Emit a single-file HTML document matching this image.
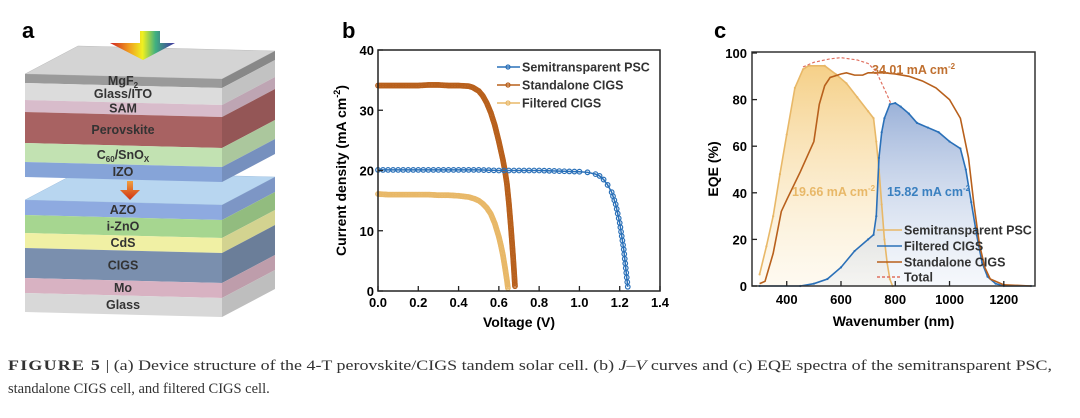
<!DOCTYPE html>
<html><head><meta charset="utf-8"><style>
html,body{margin:0;padding:0;background:#fff;}
svg{display:block;font-family:"Liberation Sans",Arial,sans-serif;}
</style></head><body>
<svg id="fig" width="1080" height="418" viewBox="0 0 1080 418">
<defs>
<linearGradient id="rainbow" x1="0" x2="1" y1="0" y2="0">
<stop offset="0" stop-color="#d02020"/><stop offset="0.3" stop-color="#f0a020"/><stop offset="0.5" stop-color="#f0f020"/><stop offset="0.7" stop-color="#40b080"/><stop offset="1" stop-color="#4030a0"/></linearGradient>
<linearGradient id="orarrow" x1="0" x2="0" y1="0" y2="1"><stop offset="0" stop-color="#f0a040"/><stop offset="1" stop-color="#d03010"/></linearGradient>
<linearGradient id="yfill" x1="0" x2="0" y1="0" y2="1"><stop offset="0" stop-color="#f2c060" stop-opacity="0.75"/><stop offset="1" stop-color="#fbeed0" stop-opacity="0.3"/></linearGradient>
<linearGradient id="bfill" x1="0" x2="0" y1="0" y2="1"><stop offset="0" stop-color="#7090c8" stop-opacity="0.7"/><stop offset="1" stop-color="#e0e8f4" stop-opacity="0.3"/></linearGradient>
</defs>
<rect width="1080" height="418" fill="#fff"/>
<text x="22" y="38" font-size="22" font-weight="bold">a</text>
<text x="342" y="38" font-size="22" font-weight="bold">b</text>
<text x="714" y="38" font-size="22" font-weight="bold">c</text>
<g id="pa"></g>
<g id="pb"></g>
<g id="pc"></g>
<g font-family="Liberation Serif, serif" font-size="14.5" fill="#333">
<text x="8" y="370" textLength="1044" lengthAdjust="spacingAndGlyphs"><tspan font-weight="bold" letter-spacing="1">FIGURE 5</tspan>  |  (a) Device structure of the 4-T perovskite/CIGS tandem solar cell. (b) <tspan font-style="italic">J–V</tspan> curves and (c) EQE spectra of the semitransparent PSC,</text>
<text x="8" y="393">standalone CIGS cell, and filtered CIGS cell.</text>
</g>
</svg>
<script>
const NS="http://www.w3.org/2000/svg";
function mk(p,t,a,txt){const e=document.createElementNS(NS,t);for(const k in a)e.setAttribute(k,a[k]);if(txt!==undefined)e.textContent=txt;p.appendChild(e);return e;}

/* ---------- Panel a ---------- */
const pa=document.getElementById('pa');
const layerNames=["MgF2","Glass/ITO","SAM","Perovskite","C60/SnOx","IZO","AZO","i-ZnO","CdS","CIGS","Mo","Glass"];
const layerTops=[74,83,100,112,143,162,200,215,233,248,278,293];
const layerBots=[83,100,112,143,162,177,215,233,248,278,293,312];
const layerCols=["#9a9a9a","#dcdcdc","#d8bccb","#a86262","#c2e2b2","#86a4d8","#8eaae0","#a6d690","#f0f0a4","#7a8fae","#d8b2c2","#d8d8d8"];
function shade(c,f){const n=parseInt(c.slice(1),16);const r=Math.round(((n>>16)&255)*f),g=Math.round(((n>>8)&255)*f),b=Math.round((n&255)*f);return `rgb(${r},${g},${b})`;}
let e=mk(pa,'polygon',{points:"25,74 222,79 275,51 78,46",fill:"#d4d4d4",stroke:"#bbb","stroke-width":0.5});

e=mk(pa,'polygon',{points:"25,200 222,205 275,177 78,172",fill:"#b8d6f0",stroke:"#a0c0e0","stroke-width":0.5});

const layerGroups=[];
layerNames.forEach((n,i)=>{
  const y0=layerTops[i],y1=layerBots[i];
  const g=mk(pa,'g',{});
  
  
  mk(g,'polygon',{points:`25,${y0} 222,${y0+5} 222,${y1+5} 25,${y1}`,fill:layerCols[i]});
  mk(g,'polygon',{points:`222,${y0+5} 275,${y0-23} 275,${y1-23} 222,${y1+5}`,fill:shade(layerCols[i],0.88)});
  layerGroups.push(g);
});
layerNames.forEach((n,i)=>{
  const y0=layerTops[i],y1=layerBots[i];
  const t=mk(pa,'text',{x:123,y:(y0+y1)/2+6.5,"text-anchor":"middle","font-size":12.5,"font-weight":"bold",fill:"#333"});
  
  if(n==="MgF2"){t.textContent="MgF";mk(t,'tspan',{"font-size":8,dy:3},"2");}
  else if(n==="C60/SnOx"){t.textContent="C";mk(t,'tspan',{"font-size":8,dy:3},"60");mk(t,'tspan',{dy:-3},"/SnO");mk(t,'tspan',{"font-size":8,dy:3},"X");}
  else t.textContent=n;
});
e=mk(pa,'polygon',{points:"110,43 140,43 140,31 160,31 160,43 175,43 143,60",fill:"url(#rainbow)"});

e=mk(pa,'polygon',{points:"120,190 127,190 127,181 133,181 133,190 140,190 130,200",fill:"url(#orarrow)"});


/* ---------- Panel b ---------- */
const jvV_std=[0,0.05,0.1,0.15,0.2,0.25,0.3,0.35,0.4,0.45,0.47,0.5,0.52,0.54,0.56,0.58,0.6,0.61,0.62,0.63,0.64,0.65,0.66,0.67,0.675,0.68];
const jvJ_std=[34.1,34.1,34.1,34.1,34.1,34.2,34.2,34.1,34.1,34.0,33.8,33.2,32.4,31.2,29.6,27.5,24.8,23.3,21.8,20.0,17.8,14.5,10.5,6.0,3.5,0.8];
const jvV_fil=[0,0.05,0.1,0.15,0.2,0.25,0.3,0.35,0.4,0.45,0.48,0.5,0.52,0.54,0.56,0.58,0.6,0.61,0.62,0.63,0.64,0.645];
const jvJ_fil=[16.1,16.0,16.0,16.0,16.0,16.0,15.9,15.9,15.8,15.6,15.3,15.0,14.5,13.8,12.8,11.2,9.0,7.6,6.0,4.0,1.8,0.5];
const jvV_psc=[0,0.1,0.2,0.3,0.4,0.5,0.6,0.7,0.8,0.9,1.0,1.04,1.08,1.1,1.12,1.14,1.16,1.18,1.2,1.22,1.24];
const jvJ_psc=[20.1,20.1,20.1,20.1,20.1,20.1,20.0,20.0,20.0,19.9,19.8,19.7,19.4,19.1,18.5,17.6,16.4,14.4,11.3,6.9,0.7];
const bXTicks=[0,0.2,0.4,0.6,0.8,1.0,1.2,1.4];
const bYTicks=[0,10,20,30,40];
const bL=378,bR=660,bT=50,bB=291;
const bx=v=>bL+(v-0)/(1.4)*(bR-bL), by=j=>bB-j/40*(bB-bT);
const pb=document.getElementById('pb');
function series(p,V,J,col,name,step,fx,fy,r){
  const g=mk(p,'g',{});
  mk(g,'polyline',{points:V.map((v,i)=>fx(v)+","+fy(J[i])).join(" "),fill:"none",stroke:col,"stroke-width":1.5});
  for(let i=0;i<V.length;i++){
    mk(g,'circle',{cx:fx(V[i]),cy:fy(J[i]),r:r,fill:"none",stroke:col,"stroke-width":1.2});
    if(step&&i<V.length-1){const x0=fx(V[i]),x1=fx(V[i+1]),y0=fy(J[i]),y1=fy(J[i+1]);const d=Math.hypot(x1-x0,y1-y0);const n=Math.floor(d/step);
      for(let k=1;k<n;k++)mk(g,'circle',{cx:x0+(x1-x0)*k/n,cy:y0+(y1-y0)*k/n,r:r,fill:"none",stroke:col,"stroke-width":1.2});}
  }
}
series(pb,jvV_std,jvJ_std,"#b8601c","series-standalone-cigs",1.4,bx,by,2.3);
series(pb,jvV_fil,jvJ_fil,"#e8b868","series-filtered-cigs",1.4,bx,by,2.3);
series(pb,jvV_psc,jvJ_psc,"#2a70b8","series-semitransparent-psc",4.2,bx,by,2.3);
e=mk(pb,'rect',{x:bL,y:bT,width:bR-bL,height:bB-bT,fill:"none",stroke:"#222","stroke-width":1.5});

bXTicks.forEach(t=>{mk(pb,'line',{x1:bx(t),x2:bx(t),y1:bB,y2:bB-5,stroke:"#222","stroke-width":1.3});
  const tx=mk(pb,'text',{x:bx(t),y:bB+16,"text-anchor":"middle","font-size":13,"font-weight":"bold"},t.toFixed(1));
  });
bYTicks.forEach(t=>{mk(pb,'line',{x1:bL,x2:bL+5,y1:by(t),y2:by(t),stroke:"#222","stroke-width":1.3});
  const tx=mk(pb,'text',{x:bL-4,y:by(t)+5,"text-anchor":"end","font-size":13,"font-weight":"bold"},String(t));
  });
e=mk(pb,'text',{x:(bL+bR)/2,y:327,"text-anchor":"middle","font-size":14,"font-weight":"bold"},"Voltage (V)");

e=mk(pb,'text',{x:0,y:0,transform:`translate(346,${(bT+bB)/2}) rotate(-90)`,"text-anchor":"middle","font-size":14,"font-weight":"bold"});
e.textContent="Current density (mA cm";mk(e,'tspan',{"font-size":9,dy:-6},"-2");mk(e,'tspan',{dy:6},")");

const bLeg=[["Semitransparent PSC","#2a70b8",67],["Standalone CIGS","#b8601c",85],["Filtered CIGS","#e8b868",103]];
bLeg.forEach(l=>{const g=mk(pb,'g',{});
  mk(g,'line',{x1:497,x2:520,y1:l[2],y2:l[2],stroke:l[1],"stroke-width":1.5});
  mk(g,'circle',{cx:508,cy:l[2],r:2,fill:"none",stroke:l[1],"stroke-width":1.2});
  mk(g,'text',{x:522,y:l[2]+4.5,"font-size":12.5,"font-weight":"bold",fill:"#333"},l[0]);});

/* ---------- Panel c ---------- */
const wlPsc=[300,325,350,375,400,430,460,480,540,580,620,660,700,720,730,740,750,760,770,780,790];
const eqePsc=[5,17,30,48,65,85,93,94.5,94.5,91,87,81,75,72,62,50,35,20,10,3,0];
const wlFil=[300,450,500,550,600,650,700,720,730,740,750,760,780,800,820,850,880,920,960,1000,1040,1060,1080,1100,1120,1140,1170,1200,1300];
const eqeFil=[0,0,1,3,8,15,20,22,30,55,66,72,78,78.5,77,74,70,68,66,62,59,50,36,22,10,4,1,0,0];
const wlStd=[300,320,350,380,400,450,500,520,540,560,600,620,650,680,700,760,800,850,900,950,1000,1040,1070,1090,1110,1130,1150,1200,1300];
const eqeStd=[1,2,14,32,37,49,62,78,86,89.5,91,91.5,90.5,90.5,91.5,91.5,91,90,88,85,80,72,55,35,18,8,3,0.5,0];
const wlTot=[460,500,560,600,660,700,730,750,770,785];
const eqeTot=[94,96,97.5,98,97,95.5,92,87,82,78];
const cXTicks=[400,600,800,1000,1200];
const cYTicks=[0,20,40,60,80,100];
const cL=752,cR=1035,cT=52,cB=286;
const xMin=272,xMax=1315;
const cx=w=>cL+(w-xMin)/(xMax-xMin)*(cR-cL), cy=q=>cB-(q/100)*(cB-(cT+1));
const pc=document.getElementById('pc');
function area(W,Q,fill,name){const pts=W.map((w,i)=>cx(w)+","+cy(Q[i])).join(" ");
  const a=mk(pc,'polygon',{points:`${cx(W[0])},${cy(0)} ${pts} ${cx(W[W.length-1])},${cy(0)}`,fill:fill});
  }
area(wlPsc,eqePsc,"url(#yfill)","area-psc");
area(wlFil,eqeFil,"url(#bfill)","area-filtered-cigs");
function line(W,Q,col,name,dash,mark){const g=mk(pc,'g',{});
  const a={points:W.map((w,i)=>cx(w)+","+cy(Q[i])).join(" "),fill:"none",stroke:col,"stroke-width":dash?1.2:1.6};
  if(dash)a["stroke-dasharray"]="3,2";mk(g,'polyline',a);
  if(mark)W.forEach((w,i)=>mk(g,'circle',{cx:cx(w),cy:cy(Q[i]),r:1.1,fill:col}));}
line(wlPsc,eqePsc,"#e8b868","series-psc-eqe",false,true);
line(wlFil,eqeFil,"#2a70b8","series-filtered-cigs-eqe",false,true);
line(wlStd,eqeStd,"#b8601c","series-standalone-cigs-eqe",false,false);
line(wlTot,eqeTot,"#e07060","series-total-eqe",true,false);
e=mk(pc,'rect',{x:cL,y:cT,width:cR-cL,height:cB-cT,fill:"none",stroke:"#333","stroke-width":1.5});

cXTicks.forEach(t=>{mk(pc,'line',{x1:cx(t),x2:cx(t),y1:cB,y2:cB-5,stroke:"#222","stroke-width":1.3});
  const tx=mk(pc,'text',{x:cx(t),y:cB+18,"text-anchor":"middle","font-size":13,"font-weight":"bold"},String(t));
  });
cYTicks.forEach(t=>{mk(pc,'line',{x1:cL,x2:cL+5,y1:cy(t),y2:cy(t),stroke:"#222","stroke-width":1.3});
  const tx=mk(pc,'text',{x:cL-5,y:cy(t)+5,"text-anchor":"end","font-size":13,"font-weight":"bold"},String(t));
  });
e=mk(pc,'text',{x:(cL+cR)/2,y:326,"text-anchor":"middle","font-size":14,"font-weight":"bold"},"Wavenumber (nm)");

e=mk(pc,'text',{x:0,y:0,transform:`translate(718,${(cT+cB)/2}) rotate(-90)`,"text-anchor":"middle","font-size":14,"font-weight":"bold"},"EQE (%)");

function ann(x,y,col,t,name){const a=mk(pc,'text',{x:x,y:y,"font-size":12.5,"font-weight":"bold",fill:col},t);mk(a,'tspan',{"font-size":8,dy:-5},"-2");
  }
ann(872,74,"#c07030","34.01 mA cm","annotation-standalone");
ann(792,196,"#e8b868","19.66 mA cm","annotation-psc");
ann(887,196,"#3a80c0","15.82 mA cm","annotation-filtered");
const cLeg=[["Semitransparent PSC","#e8b868",230,0],["Filtered CIGS","#2a70b8",246,0],["Standalone CIGS","#b8601c",262,0],["Total","#e07060",277,1]];
cLeg.forEach(l=>{const g=mk(pc,'g',{});
  const a={x1:877,x2:902,y1:l[2],y2:l[2],stroke:l[1],"stroke-width":1.6};if(l[3])a["stroke-dasharray"]="3,2";mk(g,'line',a);
  mk(g,'text',{x:904,y:l[2]+4.5,"font-size":12.5,"font-weight":"bold",fill:"#333"},l[0]);});
</script>
</body></html>
